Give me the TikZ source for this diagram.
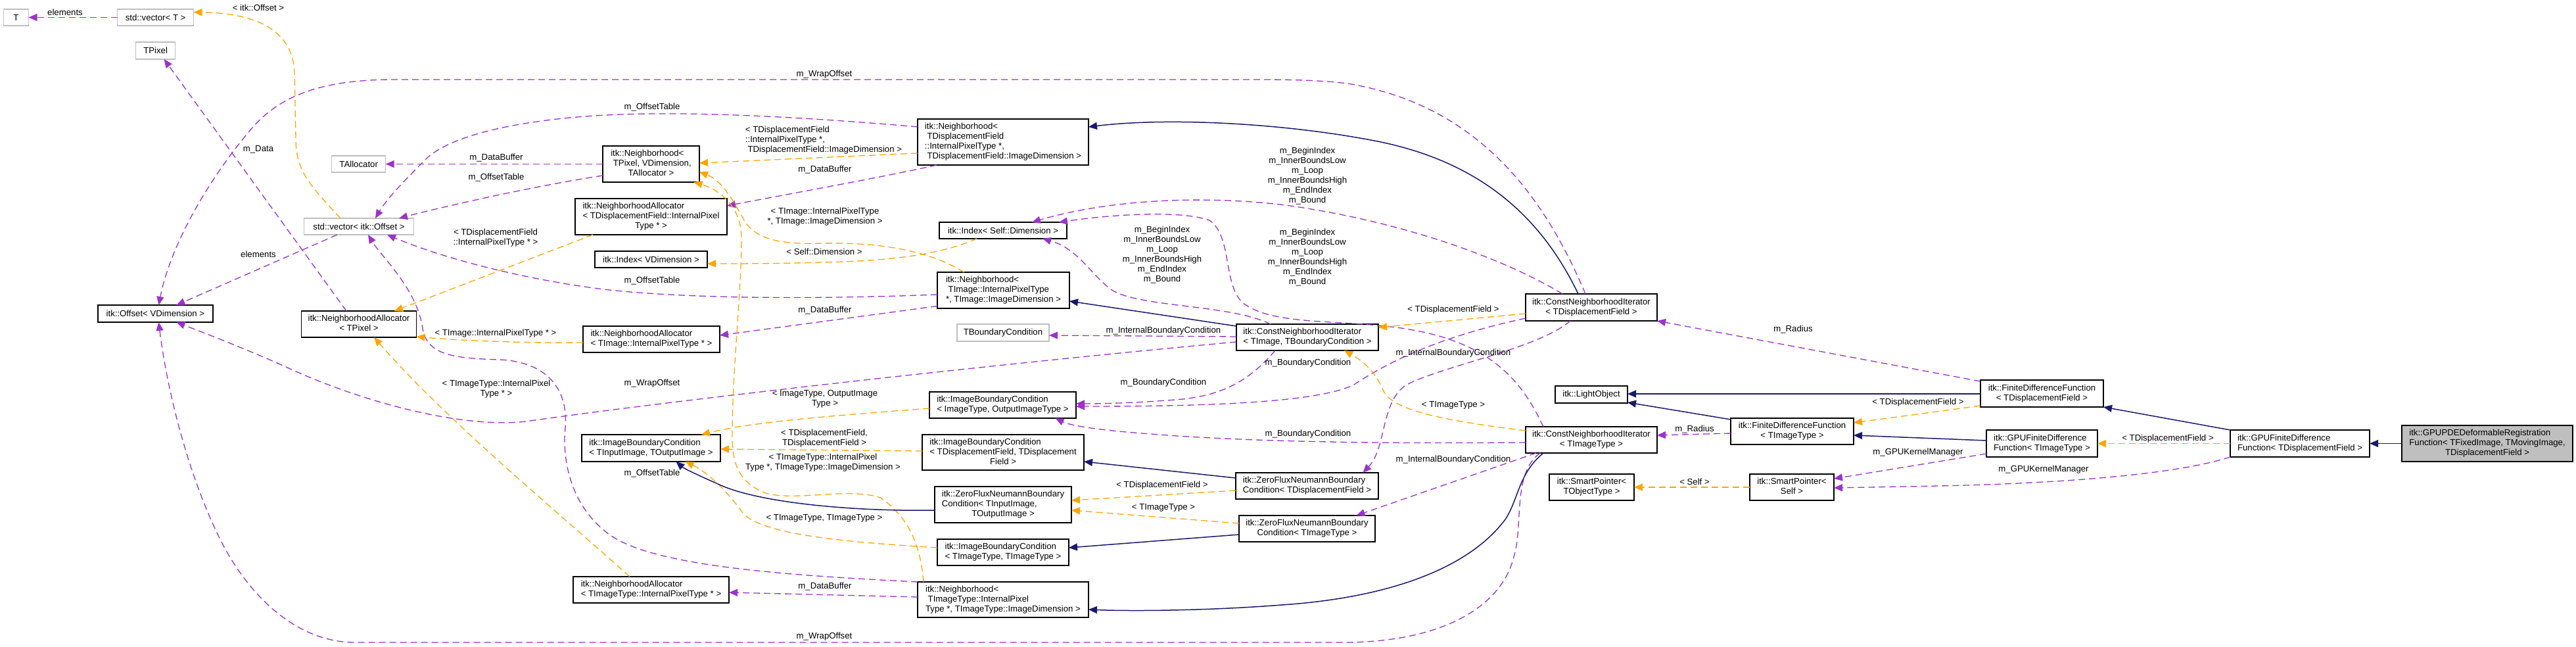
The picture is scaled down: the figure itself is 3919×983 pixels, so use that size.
\documentclass[tikz,border=0pt]{standalone}
\usepackage{fontspec}
\setmainfont{Liberation Sans}
\usetikzlibrary{arrows.meta}
\definecolor{memc}{HTML}{9A32CD}
\definecolor{tplc}{HTML}{FFA500}
\definecolor{inhc}{HTML}{191970}
\definecolor{grc}{HTML}{BFBFBF}
\newcommand{\lb}[2]{\begin{tabular}{@{}l@{}}#1\\\multicolumn{1}{@{}c@{}}{#2}\end{tabular}}
\begin{document}
\begin{tikzpicture}[x=1pt,y=-1pt, font=\fontsize{13.2}{15}\selectfont,
 cls/.style={draw=black, line width=1.3pt, fill=white, inner sep=0pt, outer sep=0pt, align=center},
 ucls/.style={cls, draw=grc},
 hcls/.style={cls, fill=grc},
 lbl/.style={inner sep=0pt, align=center},
 memE/.style={draw=memc, line width=1.3pt, dash pattern=on 10pt off 6pt, -{Triangle[length=13pt,width=11pt]}},
 tplE/.style={draw=tplc, line width=1.3pt, dash pattern=on 10pt off 6pt, -{Triangle[length=13pt,width=11pt]}},
 inhE/.style={draw=inhc, line width=1.5pt, -{Triangle[length=13pt,width=11pt]}}]
\useasboundingbox (0,0) rectangle (3919,983);
\fill[white] (0,0) rectangle (3919,983);

% ---------------- nodes ----------------
\node[ucls, minimum width=38pt, minimum height=25pt] (T) at (24.5,26.5) {T};
\node[ucls, minimum width=116pt, minimum height=25pt] (vecT) at (236.6,26.5) {std::vector< T >};
\node[ucls, minimum width=60pt, minimum height=26pt] (TPixel) at (236.6,77) {TPixel};
\node[ucls, minimum width=82pt, minimum height=25pt] (TAlloc) at (545.7,249.5) {TAllocator};
\node[ucls, minimum width=167pt, minimum height=25pt] (vecOff) at (546,344.5) {std::vector< itk::Offset >};
\node[cls, minimum width=175pt, minimum height=26pt] (Offset) at (236.4,477) {itk::Offset< VDimension >};
\node[cls, minimum width=175pt, minimum height=40pt] (NAPix) at (546,493) {\lb{itk::NeighborhoodAllocator}{< TPixel >}};
\node[cls, minimum width=147pt, minimum height=55pt] (NbPix) at (990.5,249.5) {\lb{itk::Neighborhood<\\\ TPixel, VDimension,}{TAllocator >}};
\node[cls, minimum width=231pt, minimum height=55pt] (NATDF) at (990.5,329.5) {\lb{itk::NeighborhoodAllocator\\< TDisplacementField::InternalPixel}{Type * >}};
\node[cls, minimum width=171pt, minimum height=25pt] (IdxV) at (990.5,394.5) {itk::Index< VDimension >};
\node[cls, minimum width=208pt, minimum height=40pt] (NATImg) at (991,516) {\lb{itk::NeighborhoodAllocator}{< TImage::InternalPixelType * >}};
\node[cls, minimum width=211pt, minimum height=41pt] (IBCIO) at (990.5,681.5) {\lb{itk::ImageBoundaryCondition}{< TInputImage, TOutputImage >}};
\node[cls, minimum width=237pt, minimum height=40pt] (NATIT) at (990.5,897) {\lb{itk::NeighborhoodAllocator}{< TImageType::InternalPixelType * >}};
\node[cls, minimum width=260pt, minimum height=70pt] (NbTDF) at (1526,216) {\lb{itk::Neighborhood<\\\ TDisplacementField\\::InternalPixelType *,}{\ TDisplacementField::ImageDimension >}};
\node[cls, minimum width=194pt, minimum height=25pt] (IdxSelf) at (1526,350.5) {itk::Index< Self::Dimension >};
\node[cls, minimum width=201pt, minimum height=55pt] (NbTImg) at (1526.5,441.5) {\lb{itk::Neighborhood<\\\ TImage::InternalPixelType}{*, TImage::ImageDimension >}};
\node[ucls, minimum width=140pt, minimum height=26pt] (TBC) at (1526,506) {TBoundaryCondition};
\node[cls, minimum width=216pt, minimum height=40pt] (CNITBC) at (1989,513) {\lb{itk::ConstNeighborhoodIterator}{< TImage, TBoundaryCondition >}};
\node[cls, minimum width=223pt, minimum height=40pt] (IBCImg) at (1525.5,616) {\lb{itk::ImageBoundaryCondition}{< ImageType, OutputImageType >}};
\node[cls, minimum width=246pt, minimum height=54pt] (IBCTDF) at (1526,688) {\lb{itk::ImageBoundaryCondition\\< TDisplacementField, TDisplacement}{Field >}};
\node[cls, minimum width=208pt, minimum height=55pt] (ZFIO) at (1526,767.5) {\lb{itk::ZeroFluxNeumannBoundary\\Condition< TInputImage,}{TOutputImage >}};
\node[cls, minimum width=200pt, minimum height=40pt] (IBCTT) at (1526,840) {\lb{itk::ImageBoundaryCondition}{< TImageType, TImageType >}};
\node[cls, minimum width=260pt, minimum height=54pt] (NbTIT) at (1526,912) {\lb{itk::Neighborhood<\\\ TImageType::InternalPixel}{Type *, TImageType::ImageDimension >}};
\node[cls, minimum width=217pt, minimum height=40pt] (ZFTDF) at (1988.5,739) {\lb{itk::ZeroFluxNeumannBoundary}{Condition< TDisplacementField >}};
\node[cls, minimum width=207pt, minimum height=40pt] (ZFTIT) at (1988.5,804) {\lb{itk::ZeroFluxNeumannBoundary}{Condition< TImageType >}};
\node[cls, minimum width=200pt, minimum height=41pt] (CNITDF) at (2421,467.5) {\lb{itk::ConstNeighborhoodIterator}{< TDisplacementField >}};
\node[cls, minimum width=110pt, minimum height=26pt] (LightObj) at (2421,600) {itk::LightObject};
\node[cls, minimum width=200pt, minimum height=40pt] (CNITIT) at (2421,669) {\lb{itk::ConstNeighborhoodIterator}{< TImageType >}};
\node[cls, minimum width=187pt, minimum height=40pt] (FDFTIT) at (2726.5,656) {\lb{itk::FiniteDifferenceFunction}{< TImageType >}};
\node[cls, minimum width=129pt, minimum height=40pt] (SPTO) at (2421.5,741) {\lb{itk::SmartPointer<}{TObjectType >}};
\node[cls, minimum width=128pt, minimum height=40pt] (SPSelf) at (2726,741) {\lb{itk::SmartPointer<}{Self >}};
\node[cls, minimum width=187pt, minimum height=41pt] (FDFTDF) at (3106.5,598.5) {\lb{itk::FiniteDifferenceFunction}{< TDisplacementField >}};
\node[cls, minimum width=169pt, minimum height=41pt] (GPUTIT) at (3106.5,674.5) {\lb{itk::GPUFiniteDifference}{Function< TImageType >}};
\node[cls, minimum width=212pt, minimum height=41pt] (GPUTDF) at (3499,674.5) {\lb{itk::GPUFiniteDifference}{Function< TDisplacementField >}};
\node[hcls, minimum width=260pt, minimum height=55pt] (GPUPDE) at (3784,674.5) {\lb{itk::GPUPDEDeformableRegistration\\Function< TFixedImage, TMovingImage,}{TDisplacementField >}};

% ---------------- member edges (purple) ----------------
\draw[memE] (vecT) -- (T);
\draw[memE] ([xshift=-33pt]vecOff.south) -- ([xshift=32pt]Offset.north);
\draw[memE] ([xshift=-19pt]NAPix.north) -- ([xshift=13pt]TPixel.south);
\draw[memE] (NbPix.west) -- (TAlloc.east);
\draw[memE] ([yshift=-17.5pt]NbPix.west) .. controls (800,285) and (660,318) .. ([xshift=61pt]vecOff.north);
\draw[memE] ([yshift=23pt]NbTDF.west) .. controls (1250,180) and (1100,172) .. (1000,173) .. controls (850,173) and (700,195) .. (650,240) .. controls (620,270) and (590,300) .. ([xshift=25pt]vecOff.north);
\draw[memE] ([xshift=-101pt]NbTDF.south) .. controls (1350,268) and (1200,295) .. ([yshift=16.5pt]NATDF.east);
\draw[memE] ([yshift=-6.5pt]NbTImg.west) .. controls (1250,455) and (1050,455) .. (918,440) .. controls (800,425) and (680,395) .. ([xshift=43pt]vecOff.south);
\draw[memE] ([yshift=-24pt]NbTImg.west) -- ([yshift=6pt]NATImg.east);
\draw[memE] ([xshift=-9pt]CNITDF.north) .. controls (2350,300) and (2250,160) .. (2050,127) .. controls (2000,121) and (1950,121) .. (1900,121) -- (600,121) .. controls (480,121) and (420,150) .. (379,200) .. controls (320,270) and (260,370) .. ([xshift=5pt]Offset.north);
\draw[memE] ([yshift=-7pt]CNITBC.west) .. controls (1500,555) and (1000,612) .. (800,641) .. controls (700,652) and (550,610) .. (446,563) .. controls (380,533) and (320,510) .. ([xshift=32pt]Offset.south);
\draw[memE] ([xshift=-78pt]CNITIT.south) .. controls (2300,720) and (2318,800) .. (2303,847) .. controls (2285,920) and (2200,975) .. (2050,977) -- (540,977) .. controls (450,977) and (380,905) .. (340,830) .. controls (290,735) and (255,600) .. ([xshift=5pt]Offset.south);
\draw[memE] ([yshift=27pt]NbTIT.west) .. controls (1200,875) and (1000,862) .. (930,815) .. controls (868,772) and (855,700) .. (860,650) .. controls (865,590) and (830,550) .. (760,547) .. controls (690,545) and (650,540) .. (643,500) .. controls (635,440) and (580,390) .. ([xshift=14pt]vecOff.south);
\draw[memE] ([yshift=4pt]NbTIT.west) -- ([yshift=-4pt]NATIT.east);
\draw[memE] ([xshift=-44pt]CNITDF.north) .. controls (2300,400) and (2150,340) .. (1963,313) .. controls (1850,298) and (1700,300) .. ([xshift=44pt]IdxSelf.north);
\draw[memE] ([xshift=-56pt]CNITBC.north) .. controls (1870,462) and (1730,468) .. (1690,440) .. controls (1660,418) and (1640,378) .. ([xshift=60pt]IdxSelf.south);
\draw[memE] ([xshift=-73pt]CNITIT.north) .. controls (2320,590) and (2280,530) .. (2165,505) .. controls (2060,482) and (1940,500) .. (1890,460) .. controls (1860,430) and (1875,360) .. (1840,335) .. controls (1790,318) and (1680,328) .. ([xshift=85pt]IdxSelf.north);
\draw[memE] ([yshift=1pt]CNITBC.west) -- ([yshift=-4pt]TBC.east);
\draw[memE] ([xshift=-49pt]CNITBC.south) .. controls (1900,580) and (1860,600) .. (1800,607) .. controls (1740,612) and (1690,614) .. ([yshift=2pt]IBCImg.east);
\draw[memE] ([yshift=-16.5pt]CNITDF.west) .. controls (2200,510) and (2120,545) .. (2060,585) .. controls (2000,615) and (1800,618) .. ([yshift=-2pt]IBCImg.east);
\draw[memE] ([yshift=-4pt]CNITIT.west) .. controls (2100,675) and (1900,672) .. (1750,660) .. controls (1680,655) and (1630,648) .. ([xshift=80pt]IBCImg.south);
\draw[memE] ([xshift=-32pt]CNITDF.south) .. controls (2340,530) and (2200,555) .. (2140,585) .. controls (2100,610) and (2110,680) .. ([xshift=85pt]ZFTDF.north);
\draw[memE] ([xshift=-84pt]CNITIT.south) -- ([xshift=75pt]ZFTIT.north);
\draw[memE] ([yshift=18.5pt]FDFTDF.west) -- (CNITDF.south east);
\draw[memE] ([yshift=-3pt]FDFTIT.west) -- ([yshift=7pt]CNITIT.east);
\draw[memE] ([yshift=-15.5pt]GPUTIT.west) -- ([yshift=13pt]SPSelf.east);
\draw[memE] (GPUTDF.south west) .. controls (3300,725) and (3100,736) .. (2950,739) -- ([yshift=-1pt]SPSelf.east);

% ---------------- template edges (orange) ----------------
\draw[tplE] ([xshift=-28pt]vecOff.north) .. controls (470,280) and (450,260) .. (450,210) -- (448,110) .. controls (445,40) and (380,20) .. ([yshift=8pt]vecT.east);
\draw[tplE] ([yshift=-17pt]NbTDF.west) -- ([yshift=1.5pt]NbPix.east);
\draw[tplE] ([xshift=-60pt]NbTImg.north) .. controls (1420,385) and (1350,368) .. (1250,370) .. controls (1190,372) and (1150,365) .. (1132,335) .. controls (1118,310) and (1100,275) .. ([yshift=-12pt]NbPix.east);
\draw[tplE] ([xshift=-121pt]NbTIT.north) .. controls (1400,830) and (1385,790) .. (1340,757) .. controls (1290,740) and (1200,765) .. (1160,748) .. controls (1120,730) and (1114,700) .. (1114,660) .. controls (1114,560) and (1128,450) .. (1128,360) .. controls (1128,320) and (1100,290) .. ([xshift=65pt]NbPix.south);
\draw[tplE] ([xshift=-88.5pt]NATDF.south) -- ([xshift=54pt]NAPix.north);
\draw[tplE] ([yshift=-5pt]NATImg.west) .. controls (800,522) and (700,518) .. ([yshift=-19pt]NAPix.east);
\draw[tplE] ([xshift=-32.5pt]NATIT.north) .. controls (850,780) and (680,640) .. ([xshift=23pt]NAPix.south);
\draw[tplE] ([xshift=-40pt]IdxSelf.south) .. controls (1430,388) and (1350,397) .. (1250,399) .. controls (1180,401) and (1120,401) .. ([yshift=-6.5pt]IdxV.east);
\draw[tplE] ([yshift=-9.5pt]CNITDF.west) -- ([yshift=15pt]CNITBC.east);
\draw[tplE] ([yshift=14pt]CNITIT.west) .. controls (2200,640) and (2120,625) .. (2105,595) .. controls (2092,565) and (2075,550) .. ([xshift=56pt]CNITBC.south);
\draw[tplE] ([yshift=-5pt]IBCImg.west) .. controls (1300,630) and (1150,640) .. ([xshift=76.5pt]IBCIO.north);
\draw[tplE] ([yshift=2pt]IBCTDF.west) -- ([yshift=-1.5pt]IBCIO.east);
\draw[tplE] ([yshift=7pt]IBCTT.west) .. controls (1300,825) and (1160,815) .. (1130,780) .. controls (1110,752) and (1080,720) .. ([xshift=52pt]IBCIO.south);
\draw[tplE] ([yshift=-7pt]ZFTDF.west) -- ([yshift=6.5pt]ZFIO.east);
\draw[tplE] ([yshift=8pt]ZFTIT.west) -- ([yshift=-8.5pt]ZFIO.east);
\draw[tplE] (SPSelf.west) -- (SPTO.east);
\draw[tplE] ([yshift=-18.5pt]FDFTDF.west) -- ([yshift=13pt]FDFTIT.east);
\draw[tplE] (GPUTDF.west) -- (GPUTIT.east);

% ---------------- inheritance edges (navy) ----------------
\draw[inhE] ([xshift=-20pt]CNITDF.north) .. controls (2340,320) and (2240,240) .. (2080,212) .. controls (1950,188) and (1780,178) .. ([yshift=23pt]NbTDF.east);
\draw[inhE] ([yshift=17pt]CNITBC.west) -- ([yshift=-16.5pt]NbTImg.east);
\draw[inhE] ([xshift=-73pt]CNITIT.south) .. controls (2310,720) and (2310,760) .. (2290,790) .. controls (2230,870) and (2100,910) .. (1950,920) .. controls (1850,928) and (1730,930) .. ([yshift=-15pt]NbTIT.east);
\draw[inhE] ([yshift=12pt]ZFTDF.west) -- ([yshift=-14pt]IBCTDF.east);
\draw[inhE] ([yshift=-9pt]ZFTIT.west) -- ([yshift=7pt]IBCTT.east);
\draw[inhE] ([yshift=-8.5pt]ZFIO.west) .. controls (1300,778) and (1150,765) .. (1090,735) .. controls (1060,722) and (1040,712) .. ([xshift=38pt]IBCIO.south);
\draw[inhE] ([yshift=-0.5pt]FDFTDF.west) -- ([yshift=1pt]LightObj.east);
\draw[inhE] ([yshift=18pt]FDFTIT.west) -- ([yshift=-12pt]LightObj.east);
\draw[inhE] (GPUTDF.north west) -- (FDFTDF.south east);
\draw[inhE] ([yshift=4.5pt]GPUTIT.west) -- ([yshift=-6pt]FDFTIT.east);
\draw[inhE] (GPUPDE.west) -- (GPUTDF.east);

% ---------------- labels ----------------
\node[lbl] (l1) at (99,19) {elements};
\node[lbl] (l2) at (393,12) {< itk::Offset >};
\node[lbl] (l3) at (393,227) {m\_Data};
\node[lbl] (l4) at (393,387) {elements};
\node[lbl] (l5) at (1254,113) {m\_WrapOffset};
\node[lbl] (l6) at (992,163) {m\_OffsetTable};
\node[lbl] (l7) at (755,240) {m\_DataBuffer};
\node[lbl] (l8) at (755,270) {m\_OffsetTable};
\node[lbl, align=left] (l9) at (1253,213) {< TDisplacementField\\::InternalPixelType *,\\\ TDisplacementField::ImageDimension >};
\node[lbl] (l10) at (1255,258) {m\_DataBuffer};
\node[lbl] (l11) at (1255,330) {< TImage::InternalPixelType\\*, TImage::ImageDimension >};
\node[lbl] (l12) at (754,362) {< TDisplacementField\\::InternalPixelType * >};
\node[lbl] (l13) at (1254,383) {< Self::Dimension >};
\node[lbl] (l14) at (992,427) {m\_OffsetTable};
\node[lbl] (l15) at (1255,472) {m\_DataBuffer};
\node[lbl] (l16) at (754,507) {< TImage::InternalPixelType * >};
\node[lbl] (l17) at (755,592) {< TImageType::InternalPixel\\Type * >};
\node[lbl] (l18) at (992,583) {m\_WrapOffset};
\node[lbl] (l19) at (1255,607) {< ImageType, OutputImage\\Type >};
\node[lbl] (l20) at (1254,667) {< TDisplacementField,\\TDisplacementField >};
\node[lbl] (l21) at (1252,704) {< TImageType::InternalPixel\\Type *, TImageType::ImageDimension >};
\node[lbl] (l22) at (992,720) {m\_OffsetTable};
\node[lbl] (l23) at (1254,788) {< TImageType, TImageType >};
\node[lbl] (l24) at (1255,892) {m\_DataBuffer};
\node[lbl] (l25) at (1254,968) {m\_WrapOffset};
\node[lbl] (l26) at (1989,268) {m\_BeginIndex\\m\_InnerBoundsLow\\m\_Loop\\m\_InnerBoundsHigh\\m\_EndIndex\\m\_Bound};
\node[lbl] (l27) at (1768,388) {m\_BeginIndex\\m\_InnerBoundsLow\\m\_Loop\\m\_InnerBoundsHigh\\m\_EndIndex\\m\_Bound};
\node[lbl] (l28) at (1989,392) {m\_BeginIndex\\m\_InnerBoundsLow\\m\_Loop\\m\_InnerBoundsHigh\\m\_EndIndex\\m\_Bound};
\node[lbl] (l29) at (1770,503) {m\_InternalBoundaryCondition};
\node[lbl] (l30) at (1770,582) {m\_BoundaryCondition};
\node[lbl] (l31) at (1990,552) {m\_BoundaryCondition};
\node[lbl] (l32) at (1990,660) {m\_BoundaryCondition};
\node[lbl] (l33) at (1768,738) {< TDisplacementField >};
\node[lbl] (l34) at (1770,772) {< TImageType >};
\node[lbl] (l35) at (2211,471) {< TDisplacementField >};
\node[lbl] (l36) at (2211,537) {m\_InternalBoundaryCondition};
\node[lbl] (l37) at (2211,616) {< TImageType >};
\node[lbl] (l38) at (2211,699) {m\_InternalBoundaryCondition};
\node[lbl] (l39) at (2728,501) {m\_Radius};
\node[lbl] (l40) at (2578,653) {m\_Radius};
\node[lbl] (l41) at (2578,733) {< Self >};
\node[lbl] (l42) at (2918,612) {< TDisplacementField >};
\node[lbl] (l43) at (2918,688) {m\_GPUKernelManager};
\node[lbl] (l44) at (3298,667) {< TDisplacementField >};
\node[lbl] (l45) at (3109,714) {m\_GPUKernelManager};
\end{tikzpicture}
\end{document}
